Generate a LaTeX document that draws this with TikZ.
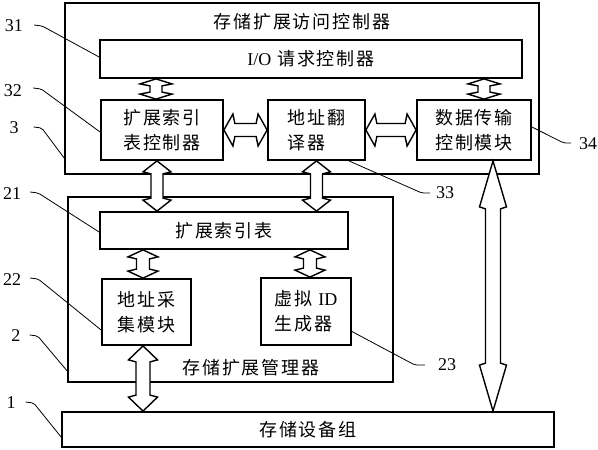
\documentclass[tikz,border=0pt]{standalone}
\usepackage{fontspec}
\setmainfont{Liberation Serif}
\newfontfamily\cjk[LetterSpace=10]{Noto Sans CJK SC}
\usetikzlibrary{calc}
\tikzset{
  frame/.style={draw, line width=1.8pt, inner sep=0pt},
  box/.style={draw, line width=1.8pt, inner sep=0pt, align=center, font=\fontsize{18}{25}\selectfont\cjk},
  boxl/.style={box, align=left},
  ttl/.style={inner sep=0pt, font=\fontsize{18}{25}\selectfont\cjk},
  lbl/.style={font=\fontsize{18}{20}\selectfont, inner sep=1pt},
  leader/.style={line width=0.8pt, rounded corners=2pt},
  barrow/.style={draw, fill=white, line width=1.4pt, line join=miter},
}
% #1 start, #2 end, #3 half shaft, #4 half head, #5 barb distance, #6 junction distance
\newcommand\blockarrow[6]{%
  \filldraw[barrow] (#1)
    -- ($(#1)!#5!(#2)!#4!90:(#2)$)
    -- ($(#1)!#6!(#2)!#3!90:(#2)$)
    -- ($(#2)!#6!(#1)!#3!-90:(#1)$)
    -- ($(#2)!#5!(#1)!#4!-90:(#1)$)
    -- (#2)
    -- ($(#2)!#5!(#1)!#4!90:(#1)$)
    -- ($(#2)!#6!(#1)!#3!90:(#1)$)
    -- ($(#1)!#6!(#2)!#3!-90:(#2)$)
    -- ($(#1)!#5!(#2)!#4!-90:(#2)$)
    -- cycle;}
\begin{document}
\begin{tikzpicture}[x=1pt, y=-1pt]
\useasboundingbox (0,0) rectangle (598,450);
% outer frames
\node[frame, minimum width=474pt, minimum height=171pt] (n3) at (302,88.5) {};
\node[ttl] (t3) at (302,22) {存储扩展访问控制器};
\node[frame, minimum width=325pt, minimum height=185pt] (n2) at (230.5,289.5) {};
\node[ttl] (t2) at (251,368) {存储扩展管理器};
% inner boxes
\node[box, minimum width=422pt, minimum height=38pt] (n31) at (311,59) {{\rmfamily I/O} 请求控制器};
\node[box, minimum width=122pt, minimum height=60pt] (n32) at (162,130) {扩展索引\\表控制器};
\node[boxl, minimum width=97pt, minimum height=60pt] (n33) at (316.5,130) {地址翻\\译器};
\node[box, minimum width=114pt, minimum height=60pt] (n34) at (474,130) {数据传输\\控制模块};
\node[box, minimum width=248pt, minimum height=37pt] (n21) at (224,230.5) {扩展索引表};
\node[box, minimum width=89pt, minimum height=66pt] (n22) at (146.5,312) {地址采\\集模块};
\node[boxl, minimum width=90pt, minimum height=67pt] (n23) at (306,311.5) {虚拟 {\rmfamily ID}\\生成器};
\node[box, minimum width=492pt, minimum height=35pt] (n1) at (308,429.5) {存储设备组};
% arrow end points
\coordinate (a1s) at ([xshift=-6pt]n32.north);  \coordinate (a1e) at (a1s |- n31.south);
\coordinate (a2s) at ([xshift=10pt]n34.north);  \coordinate (a2e) at (a2s |- n31.south);
\coordinate (a3s) at ([xshift=-5pt]n32.south);  \coordinate (a3e) at (a3s |- n21.north);
\coordinate (a4s) at (n33.south);               \coordinate (a4e) at (a4s |- n21.north);
\coordinate (a5s) at ([xshift=-3.5pt]n22.north); \coordinate (a5e) at (a5s |- n21.south);
\coordinate (a6s) at ([xshift=4pt]n23.north);   \coordinate (a6e) at (a6s |- n21.south);
\coordinate (a7s) at ([xshift=-3.5pt]n22.south); \coordinate (a7e) at (a7s |- n1.north);
\coordinate (a8s) at ([xshift=19pt]n34.south);  \coordinate (a8e) at (a8s |- n1.north);
% block arrows
\blockarrow{a1s}{a1e}{6pt}{16pt}{5pt}{7pt}
\blockarrow{a2s}{a2e}{6pt}{16pt}{5pt}{7pt}
\blockarrow{n32.east}{n33.west}{6.5pt}{16pt}{9pt}{11pt}
\blockarrow{n33.east}{n34.west}{6.5pt}{16pt}{9pt}{11pt}
\blockarrow{a3s}{a3e}{6pt}{14pt}{11pt}{13pt}
\blockarrow{a4s}{a4e}{6pt}{14pt}{11pt}{13pt}
\blockarrow{a5s}{a5e}{6.5pt}{15pt}{7pt}{9pt}
\blockarrow{a6s}{a6e}{6.5pt}{15pt}{7pt}{9pt}
\blockarrow{a7s}{a7e}{7pt}{14.5pt}{14pt}{16pt}
\blockarrow{a8s}{a8e}{7.5pt}{13.5pt}{46pt}{48pt}
% reference labels
\node[lbl] (l31) at (14,26) {31};
\node[lbl] (l32) at (13,91) {32};
\node[lbl] (l3)  at (14,128) {3};
\node[lbl] (l21) at (12,194) {21};
\node[lbl] (l22) at (12,280) {22};
\node[lbl] (l2)  at (16,336) {2};
\node[lbl] (l1)  at (11,403) {1};
\node[lbl] (l34) at (588,144) {34};
\node[lbl] (l33) at (445,193) {33};
\node[lbl] (l23) at (447,365) {23};
% leaders
\draw[leader] ([xshift=10pt,yshift=1pt]l31.east) -- ++(8,1) -- ([yshift=2pt]n31.west);
\draw[leader] ([xshift=10pt,yshift=3pt]l32.east) -- ++(8,1) -- ([yshift=-2pt]n32.west);
\draw[leader] ([xshift=14pt,yshift=1pt]l3.east) -- ++(8,1) -- ([yshift=17pt]n3.south west);
\draw[leader] ([xshift=8pt,yshift=2pt]l21.east) -- ++(8,1) -- ([yshift=-1.5pt]n21.west);
\draw[leader] ([xshift=8pt,yshift=2pt]l22.east) -- ++(8,1) -- ([yshift=-18pt]n22.west);
\draw[leader] ([xshift=8pt,yshift=1pt]l2.east) -- ++(8,1) -- ([yshift=12pt]n2.south west);
\draw[leader] ([xshift=9pt,yshift=1pt]l1.east) -- ++(8,1) -- ([yshift=-7.5pt]n1.west);
\draw[leader] ([yshift=3pt]n34.east) -- ([xshift=-14pt,yshift=1pt]l34.west) -- ([xshift=-7pt,yshift=1pt]l34.west);
\draw[leader] ([xshift=-17pt]n33.south east) -- ([xshift=-13pt]l33.west) -- ([xshift=-5pt]l33.west);
\draw[leader] ([yshift=-20pt]n23.east) -- ([xshift=-22pt]l23.west) -- ([xshift=-12pt]l23.west);
\end{tikzpicture}
\end{document}
